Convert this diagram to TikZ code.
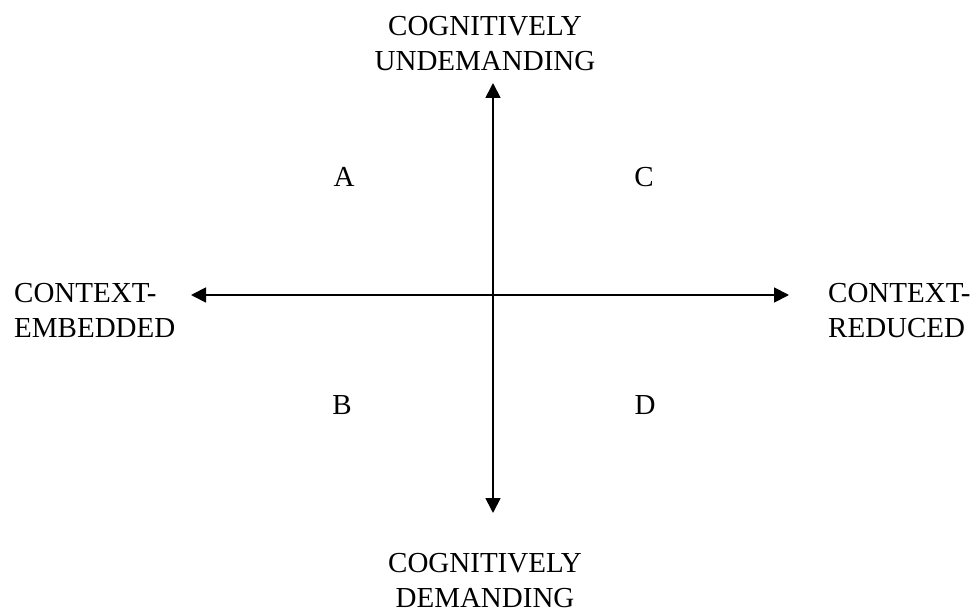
\documentclass[tikz,border=0pt]{standalone}
\usepackage{fontspec}
\setmainfont{Liberation Serif}
\usetikzlibrary{arrows.meta}

\begin{document}
\begin{tikzpicture}[x=1pt, y=-1pt,
    axis/.style={line width=1.8pt, {Triangle[length=15pt,width=15pt]}-{Triangle[length=15pt,width=15pt]}},
    label/.style={font=\fontsize{29}{35}\selectfont, inner sep=0pt}]

\useasboundingbox (0,0) rectangle (979,612);

% Axes
\coordinate (up) at (493,83);
\coordinate (down) at (493,513);
\coordinate (left) at (191,295);
\coordinate (right) at (789,295);
\draw[axis] (down) -- (up);
\draw[axis] (left) -- (right);

% Pole labels
\node[label, align=center, anchor=south] (undemanding) at (485,71) {COGNITIVELY\\UNDEMANDING};
\node[label, align=center, anchor=south] (demanding) at (485,608) {COGNITIVELY\\DEMANDING};
\node[label, align=left, anchor=south west] (embedded) at (14,338) {CONTEXT-\\EMBEDDED};
\node[label, align=left, anchor=south west] (reduced) at (828,338) {CONTEXT-\\REDUCED};

% Quadrants
\node[label, anchor=base] (qa) at (344,187) {A};
\node[label, anchor=base] (qc) at (644,187) {C};
\node[label, anchor=base] (qb) at (342,414) {B};
\node[label, anchor=base] (qd) at (645,414) {D};

\end{tikzpicture}
\end{document}
